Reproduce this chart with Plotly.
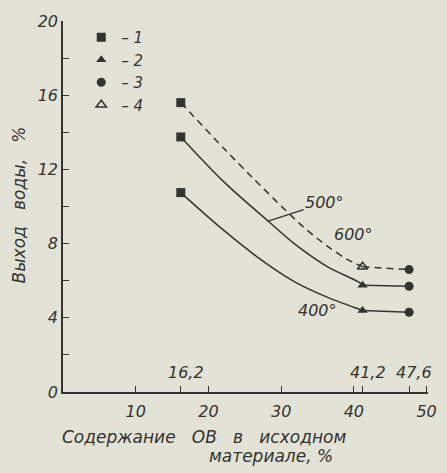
import plotly.graph_objects as go

# Measured points: content of organic matter (x, %) vs water yield (y, %)
x_points = [16.2, 41.2, 47.6]
y_600 = [15.6, 6.75, 6.6]
y_500 = [13.75, 5.75, 5.7]
y_400 = [10.75, 4.4, 4.3]

# Hand-drawn smoothing curves between the first two points of each series
curve_600_x = [16.2, 22.2, 26.2, 30.6, 33.2, 36.4, 39.1, 41.2]
curve_600_y = [15.6, 13.1, 11.5, 9.8, 8.85, 7.85, 7.15, 6.75]
curve_500_x = [16.2, 22.2, 28.4, 31.8, 36.4, 40.8, 41.2]
curve_500_y = [13.75, 11.3, 9.15, 8.0, 6.75, 5.9, 5.75]
curve_400_x = [16.2, 22.0, 27.5, 31.8, 36.4, 41.2]
curve_400_y = [10.75, 8.75, 7.05, 5.95, 5.1, 4.4]

x_ticks = [10, 16.2, 20, 30, 40, 41.2, 47.6, 50]
x_tick_text = ["10", "", "20", "30", "40", "", "", "50"]
x_marked = [16.2, 41.2, 47.6]
x_marked_text = ["16,2", "41,2", "47,6"]
y_ticks = [0, 2, 4, 6, 8, 10, 12, 14, 16, 18, 20]
y_tick_text = ["0", "", "4", "", "8", "", "12", "", "16", "", "20"]

INK = "#333330"
PAPER = "#e3e2d7"
FONT = dict(family="DejaVu Sans", size=16, color=INK, style="italic")
TITLE_FONT = dict(FONT, size=17)

fig = go.Figure()

line_w = 1.5
for cx, cy, dash in [
    (curve_600_x, curve_600_y, "7px,5px"),
    (curve_500_x, curve_500_y, "solid"),
    (curve_400_x, curve_400_y, "solid"),
]:
    fig.add_trace(go.Scatter(
        x=cx, y=cy, mode="lines", showlegend=False, hoverinfo="skip",
        line=dict(color=INK, width=line_w, shape="spline", smoothing=0.9, dash=dash),
    ))

for ys, dash in [(y_600, "7px,5px"), (y_500, "solid"), (y_400, "solid")]:
    fig.add_trace(go.Scatter(
        x=x_points[1:], y=ys[1:], mode="lines", showlegend=False, hoverinfo="skip",
        line=dict(color=INK, width=line_w, dash=dash),
    ))

# Markers by sample type
fig.add_trace(go.Scatter(
    x=[x_points[0]] * 3, y=[y_600[0], y_500[0], y_400[0]], mode="markers", name="\u2013 1",
    marker=dict(symbol="square", size=9, color=INK),
))
fig.add_trace(go.Scatter(
    x=[x_points[1]] * 2, y=[y_500[1], y_400[1]], mode="markers", name="\u2013 2",
    marker=dict(symbol="triangle-up", size=9, color=INK),
))
fig.add_trace(go.Scatter(
    x=[x_points[2]] * 3, y=[y_600[2], y_500[2], y_400[2]], mode="markers", name="\u2013 3",
    marker=dict(symbol="circle", size=9, color=INK),
))
fig.add_trace(go.Scatter(
    x=[x_points[1]], y=[y_600[1]], mode="markers", name="\u2013 4",
    marker=dict(symbol="triangle-up-open", size=9, color=INK, line=dict(width=1.5, color=INK)),
))

annotations = []
for xv, txt in zip(x_marked, x_marked_text):
    annotations.append(dict(x=xv, y=0, xref="x", yref="y", text=txt, showarrow=False,
                            yanchor="bottom", yshift=8, xshift=5, font=FONT))

annotations += [
    dict(x=28.1, y=9.2, ax=36.0, ay=10.2, axref="x", ayref="y", xref="x", yref="y",
         text="500°", showarrow=True, arrowhead=0, arrowwidth=1.2, arrowcolor=INK,
         font=FONT),
    dict(x=40.0, y=8.5, xref="x", yref="y", text="600°", showarrow=False, font=FONT),
    dict(x=35.0, y=4.4, xref="x", yref="y", text="400°", showarrow=False, font=FONT),
    dict(x=0.385, y=-0.121, xref="paper", yref="paper", xanchor="center", yanchor="middle",
         text="Содержание   ОВ   в   исходном", showarrow=False, font=TITLE_FONT),
    dict(x=0.57, y=-0.173, xref="paper", yref="paper", xanchor="center", yanchor="middle",
         text="материале, %", showarrow=False, font=TITLE_FONT),
    dict(x=-0.121, y=0.505, xref="paper", yref="paper", xanchor="center", yanchor="middle",
         text="Выход   воды,   %", textangle=-90, showarrow=False, font=TITLE_FONT),
]

fig.update_layout(
    width=447, height=473,
    margin=dict(l=63, r=10, t=21, b=81),
    paper_bgcolor=PAPER, plot_bgcolor=PAPER,
    font=FONT,
    showlegend=True,
    legend=dict(x=0.05, y=1.0, xanchor="left", yanchor="top", bgcolor="rgba(0,0,0,0)",
                font=dict(FONT, size=15), itemwidth=30, tracegroupgap=0),
    annotations=annotations,
)
fig.update_xaxes(
    range=[0, 50.2], showgrid=False, zeroline=False, showline=True, linecolor=INK, linewidth=1.5,
    ticks="inside", ticklen=6, tickwidth=1.3, tickcolor=INK, ticklabelstandoff=4,
    tickvals=x_ticks, ticktext=x_tick_text, tickfont=FONT,
)
fig.update_yaxes(
    range=[0, 20], showgrid=False, zeroline=False, showline=True, linecolor=INK, linewidth=1.5,
    ticks="inside", ticklen=6, tickwidth=1.3, tickcolor=INK,
    tickvals=y_ticks, ticktext=y_tick_text, tickfont=FONT,
)

fig.write_html("out.html")
